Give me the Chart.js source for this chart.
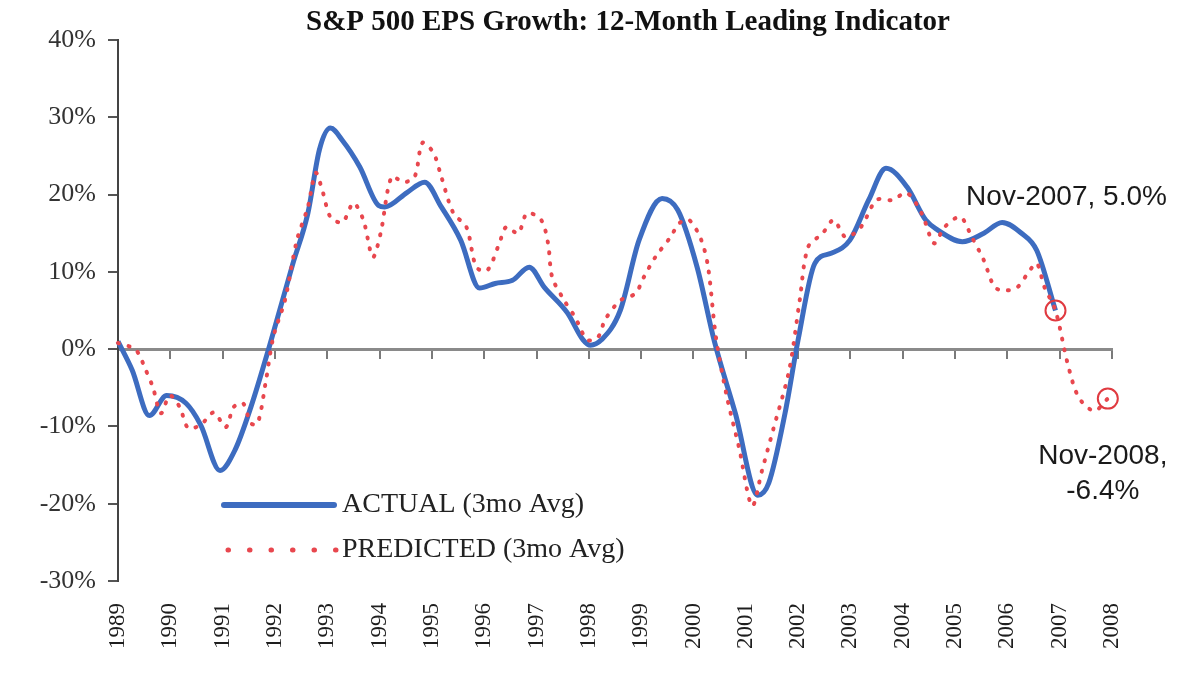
<!DOCTYPE html>
<html>
<head>
<meta charset="utf-8">
<script src="https://cdn.jsdelivr.net/npm/chart.js@4"></script>
<style>
  html, body { margin: 0; padding: 0; background: #fff; }
  #wrap { width: 1200px; height: 675px; }
</style>
</head>
<body>
<div id="wrap"><canvas id="epsChart"></canvas></div>
<script>
// values (year position, % growth)
const actualYears = [1989.00, 1989.27, 1989.60, 1989.93, 1990.30, 1990.58, 1990.95, 1991.24, 1991.54, 1991.90,
  1992.34, 1992.63, 1992.85, 1993.06, 1993.29, 1993.62, 1993.98, 1994.10, 1994.53, 1994.86,
  1995.18, 1995.55, 1995.91, 1996.21, 1996.54, 1996.86, 1997.15, 1997.59, 1997.89, 1998.03,
  1998.24, 1998.60, 1998.96, 1999.40, 1999.70, 2000.07, 2000.40, 2000.80, 2001.23, 2001.44,
  2001.75, 2002.00, 2002.32, 2002.63, 2002.99, 2003.35, 2003.68, 2004.08, 2004.44, 2004.67,
  2005.14, 2005.55, 2005.90, 2006.27, 2006.56, 2006.92];
const actualValues = [1.0, -2.7, -8.6, -6.0, -7.0, -9.8, -15.7, -13.0, -7.5, 0.5,
  11.0, 17.6, 25.8, 28.6, 27.0, 23.6, 18.6, 18.4, 20.3, 21.6,
  18.4, 14.1, 7.9, 8.5, 8.9, 10.6, 8.0, 4.7, 1.2, 0.5,
  1.2, 5.0, 14.1, 19.5, 18.0, 10.6, 1.0, -8.3, -18.9, -17.3,
  -8.3, 1.2, 11.1, 12.4, 14.1, 19.3, 23.4, 21.0, 16.7, 15.4,
  13.9, 15.0, 16.4, 15.0, 12.8, 5.0];

const predYears = [1989.00, 1989.34, 1989.53, 1989.67, 1989.82, 1989.99, 1990.18, 1990.34, 1990.58, 1990.83,
  1991.06, 1991.21, 1991.39, 1991.54, 1991.67, 1991.82, 1991.97, 1992.19, 1992.42, 1992.63,
  1992.78, 1992.92, 1993.06, 1993.29, 1993.50, 1993.69, 1993.87, 1994.02, 1994.23, 1994.46,
  1994.67, 1994.82, 1995.03, 1995.18, 1995.41, 1995.66, 1995.85, 1996.06, 1996.29, 1996.42,
  1996.65, 1996.82, 1997.09, 1997.22, 1997.30, 1997.53, 1997.74, 1997.97, 1998.18, 1998.31,
  1998.60, 1998.89, 1999.05, 1999.27, 1999.56, 1999.73, 1999.92, 2000.15, 2000.28, 2000.43,
  2000.64, 2000.87, 2001.12, 2001.31, 2001.52, 2001.83, 2002.03, 2002.19, 2002.47, 2002.68,
  2002.91, 2003.20, 2003.50, 2003.80, 2004.08, 2004.36, 2004.60, 2004.80, 2005.10, 2005.32,
  2005.55, 2005.76, 2005.98, 2006.19, 2006.39, 2006.56, 2006.71, 2006.92, 2007.15, 2007.36,
  2007.66, 2007.92];
const predValues = [0.8, -0.1, -2.7, -5.0, -8.3, -6.0, -7.5, -10.2, -9.8, -8.2,
  -10.1, -7.5, -7.0, -9.6, -9.6, -4.4, 1.6, 6.3, 14.1, 18.4,
  22.8, 20.2, 17.1, 16.4, 18.9, 16.7, 11.9, 15.0, 22.3, 21.6,
  22.3, 26.7, 25.4, 22.3, 17.6, 15.8, 10.6, 10.2, 13.7, 15.8,
  15.0, 17.6, 16.7, 13.7, 9.3, 6.3, 4.1, 1.2, 1.6, 3.8,
  6.3, 7.2, 9.3, 11.9, 14.5, 16.3, 16.7, 14.1, 10.6, 1.5,
  -6.2, -12.7, -20.3, -15.7, -10.5, -2.7, 6.3, 13.2, 15.0, 16.7,
  14.5, 15.8, 19.3, 19.3, 20.2, 17.6, 13.7, 15.8, 17.1, 14.5,
  11.5, 8.0, 7.6, 8.0, 9.8, 11.1, 8.0, 5.0, -1.8, -6.2,
  -8.0, -6.4];

const yearLabels = ["1989", "1990", "1991", "1992", "1993", "1994", "1995", "1996", "1997", "1998",
  "1999", "2000", "2001", "2002", "2003", "2004", "2005", "2006", "2007", "2008"];
const yTickLabels = ["-30%", "-20%", "-10%", "0%", "10%", "20%", "30%", "40%"];

const seriesNames = ["ACTUAL (3mo Avg)", "PREDICTED (3mo Avg)"];
const callouts = [
  { series: 0, lines: ["Nov-2007, 5.0%"], dx: 11, dy: -113 },
  { series: 1, lines: ["Nov-2008,", "-6.4%"], dx: -5, dy: 58 }
];

const BLUE = "#3d6cc0";
const RED = "#e8474e";
const SERIF = "'Liberation Serif', 'Times New Roman', serif";
const SANS = "'Liberation Sans', Arial, sans-serif";

const toPoints = (xs, ys) => xs.map((x, i) => ({ x, y: ys[i] }));
const lastOnly = (n, r) => ctx => ctx.dataIndex === n - 1 ? r : 0;

// title, legend and the two callouts
const decorPlugin = {
  id: "decor",
  afterDraw(chart) {
    const { ctx, chartArea } = chart;
    ctx.save();

    ctx.fillStyle = "#111";
    ctx.font = "bold 29px " + SERIF;
    ctx.textAlign = "center";
    ctx.textBaseline = "middle";
    ctx.fillText("S&P 500 EPS Growth: 12-Month Leading Indicator", 628, 23);

    // legend inside the plot
    const lx = chartArea.left + 106, lw = 110, ly = chartArea.top + 465;
    ctx.lineCap = "round";
    ctx.strokeStyle = BLUE;
    ctx.lineWidth = 6;
    ctx.beginPath(); ctx.moveTo(lx, ly); ctx.lineTo(lx + lw, ly); ctx.stroke();
    ctx.strokeStyle = RED;
    ctx.lineWidth = 5;
    ctx.setLineDash([0.5, 21]);
    ctx.beginPath(); ctx.moveTo(lx + 4, ly + 45); ctx.lineTo(lx + lw + 2, ly + 45); ctx.stroke();
    ctx.setLineDash([]);
    ctx.fillStyle = "#222";
    ctx.font = "28px " + SERIF;
    ctx.textAlign = "left";
    ctx.fillText(seriesNames[0], lx + lw + 8, ly);
    ctx.fillText(seriesNames[1], lx + lw + 8, ly + 45);

    // callouts next to the circled end points
    ctx.font = "28px " + SANS;
    ctx.textAlign = "center";
    ctx.fillStyle = "#1a1a1a";
    callouts.forEach(c => {
      const meta = chart.getDatasetMeta(c.series === 0 ? 1 : 0);
      const pt = meta.data[meta.data.length - 1];
      c.lines.forEach((t, i) => ctx.fillText(t, pt.x + c.dx, pt.y + c.dy + i * 35));
    });
    ctx.restore();
  }
};

new Chart(document.getElementById("epsChart"), {
  type: "line",
  data: {
    datasets: [
      {
        label: seriesNames[1],
        data: toPoints(predYears, predValues),
        borderColor: RED,
        borderWidth: 4,
        borderDash: [1, 10],
        borderCapStyle: "round",
        tension: 0.3,
        clip: false,
        pointRadius: lastOnly(predYears.length, 10),
        pointBorderColor: "#e03a40",
        pointBorderWidth: 2,
        pointBackgroundColor: "rgba(0,0,0,0)"
      },
      {
        label: seriesNames[0],
        data: toPoints(actualYears, actualValues),
        borderColor: BLUE,
        borderWidth: 5,
        tension: 0.35,
        cubicInterpolationMode: "monotone",
        clip: false,
        pointRadius: lastOnly(actualYears.length, 10),
        pointBorderColor: "#e03a40",
        pointBorderWidth: 2,
        pointBackgroundColor: "rgba(0,0,0,0)"
      }
    ]
  },
  options: {
    responsive: true,
    maintainAspectRatio: false,
    animation: false,
    layout: { padding: { top: 40, left: 8, right: 88, bottom: 0 } },
    plugins: {
      legend: { display: false },
      title: { display: false },
      tooltip: { enabled: false }
    },
    scales: {
      // axis line through 0% with the year tick marks
      x: {
        type: "linear",
        position: { y: 0 },
        min: 1989, max: 2008,
        ticks: { display: false, stepSize: 1 },
        grid: { drawOnChartArea: false, drawTicks: true, tickLength: 8, color: "#7a7a7a", lineWidth: 2 },
        border: { display: true, color: "#8a8a8a", width: 3 }
      },
      // year labels below the plot
      xLabels: {
        type: "linear",
        axis: "x",
        position: "bottom",
        min: 1989, max: 2008,
        afterFit: s => { s.height = 94; },
        ticks: {
          stepSize: 1,
          autoSkip: false,
          minRotation: 90,
          maxRotation: 90,
          padding: 14,
          color: "#1e1e1e",
          font: { family: SERIF, size: 23 },
          callback: (v, i) => yearLabels[i]
        },
        grid: { display: false },
        border: { display: false }
      },
      y: {
        min: -30, max: 40,
        afterFit: s => { s.width = 110; },
        ticks: {
          stepSize: 10,
          padding: 12,
          color: "#333",
          font: { family: SERIF, size: 26 },
          callback: (v, i) => yTickLabels[i]
        },
        grid: { drawOnChartArea: false, drawTicks: true, tickLength: 10, color: "#555", lineWidth: 2 },
        border: { display: true, color: "#444", width: 2 }
      }
    }
  },
  plugins: [decorPlugin]
});
</script>
</body>
</html>
